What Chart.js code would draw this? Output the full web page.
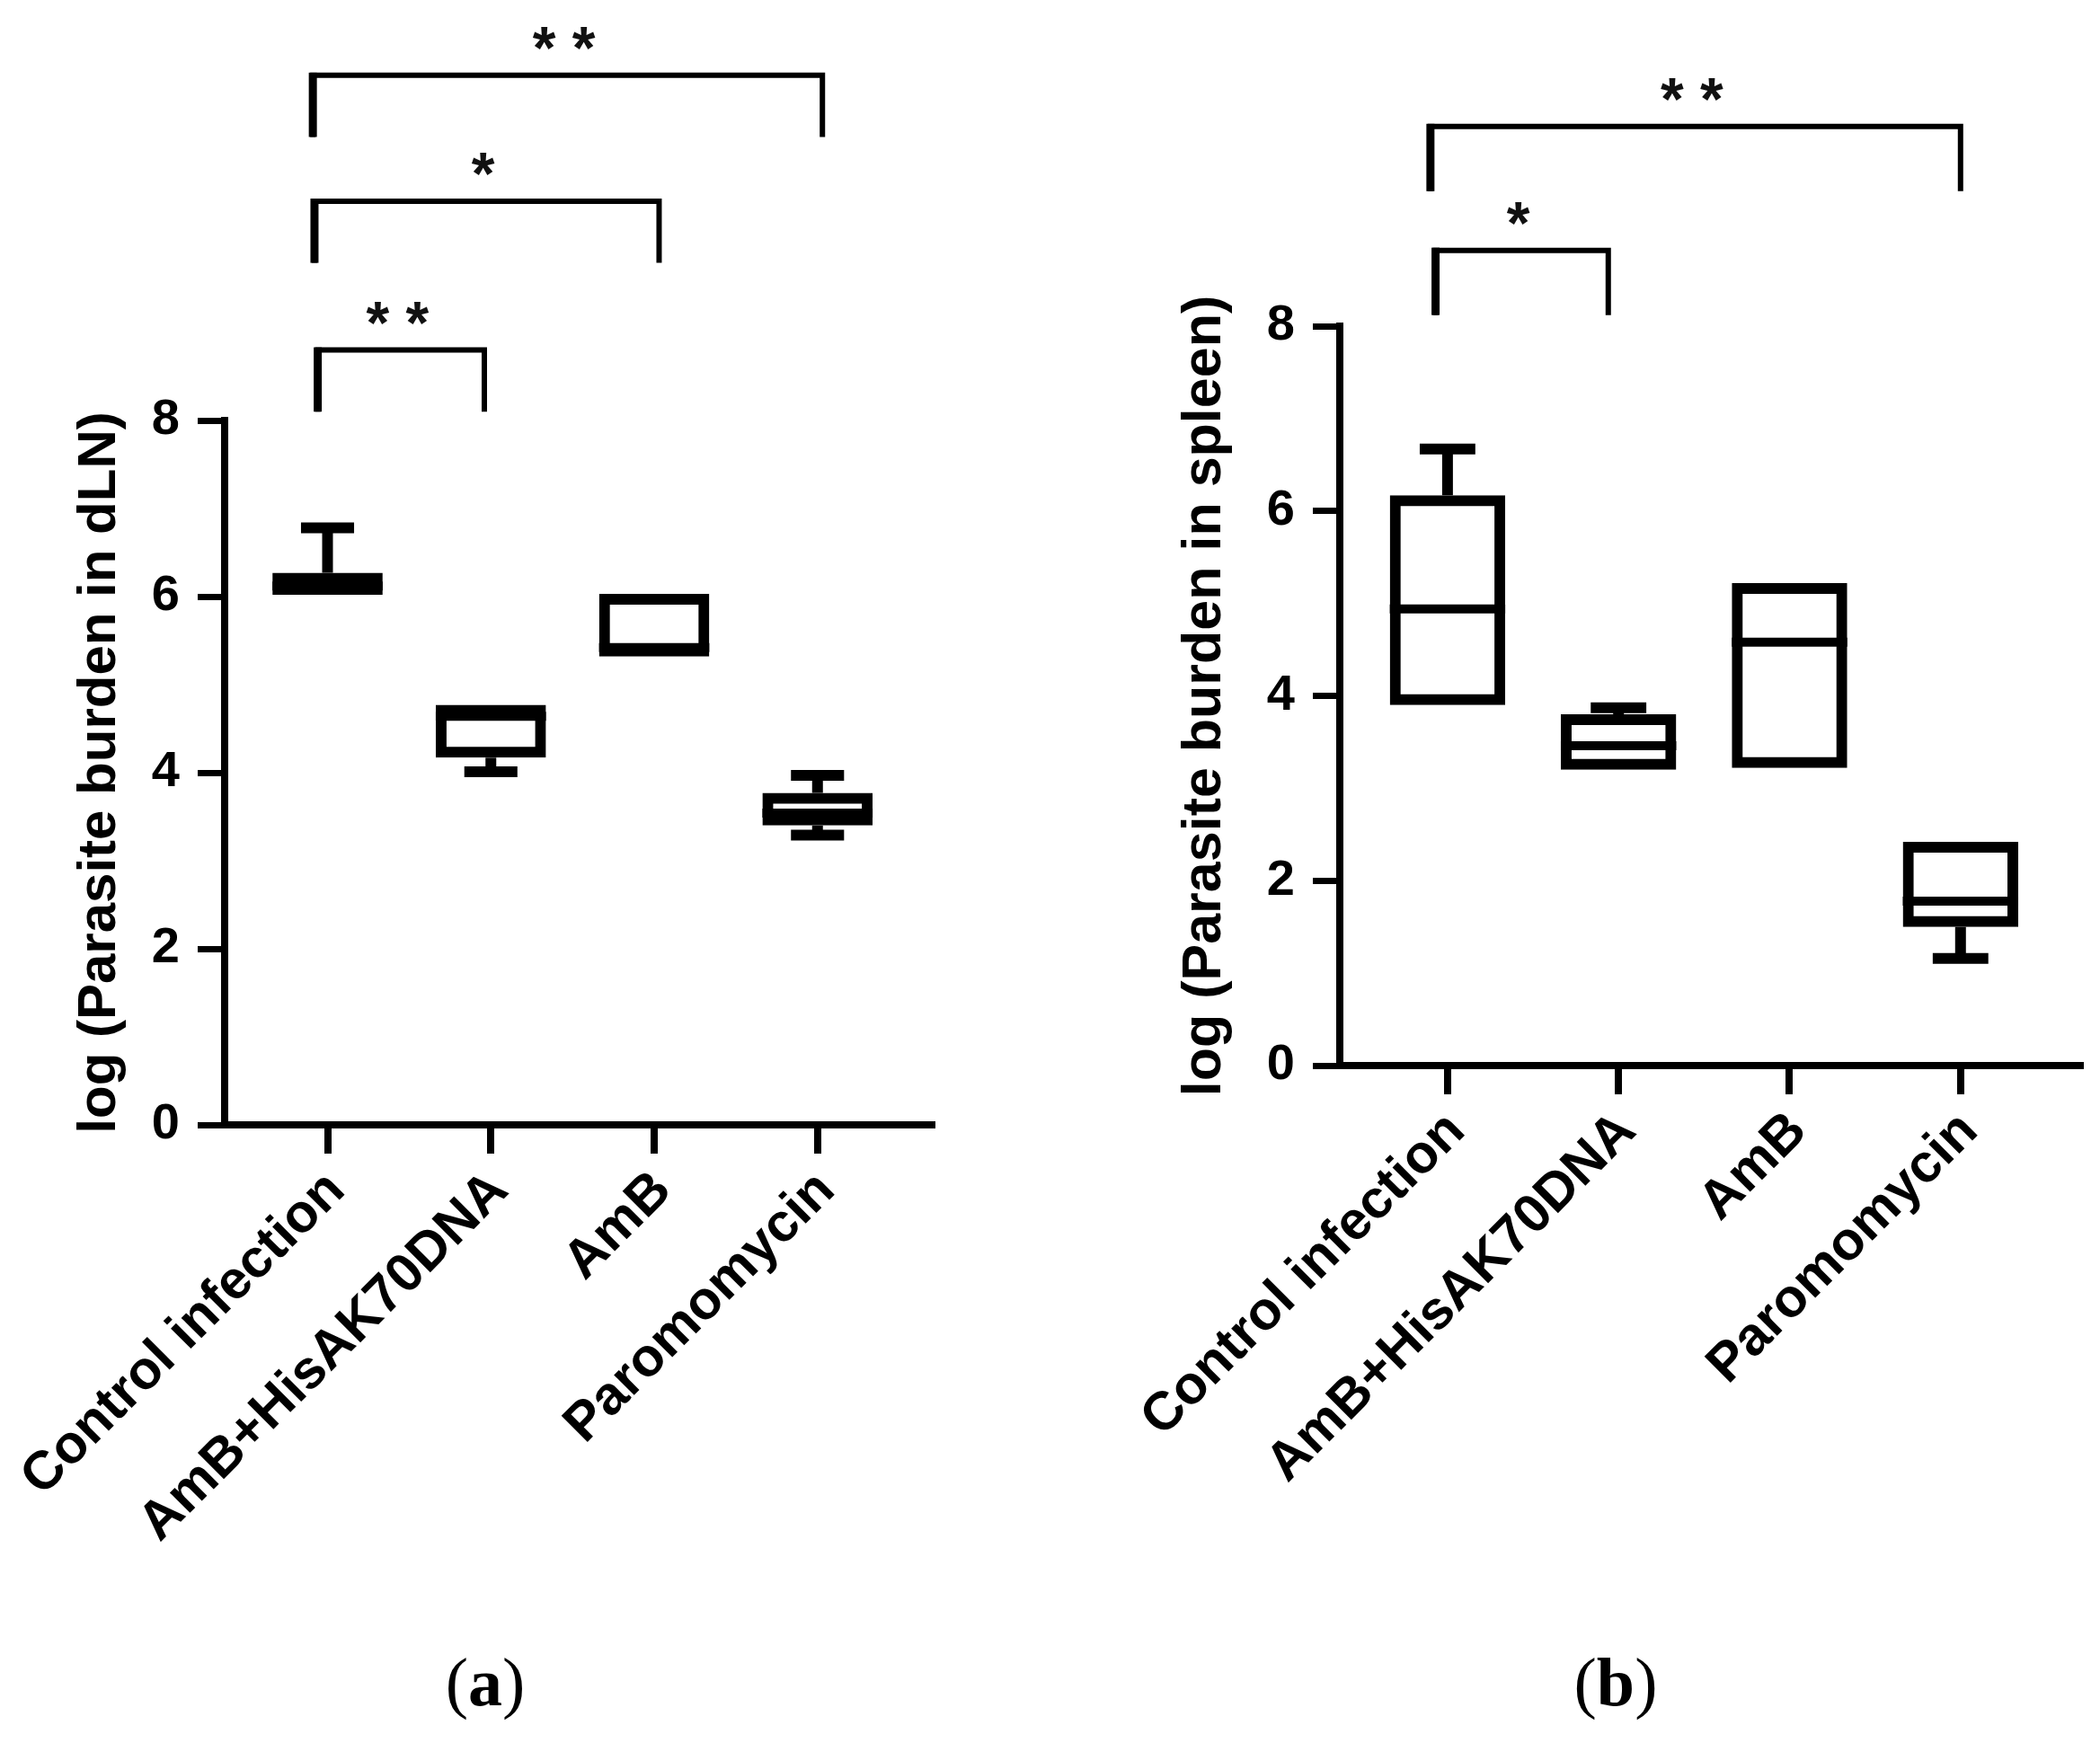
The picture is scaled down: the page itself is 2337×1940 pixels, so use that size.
<!DOCTYPE html>
<html>
<head>
<meta charset="utf-8">
<title>Parasite burden</title>
<script src="https://cdn.jsdelivr.net/npm/chart.js@4.4.1/dist/chart.umd.min.js"></script>
<style>
  html, body { margin: 0; padding: 0; background: #fff; }
  #page { position: relative; width: 2337px; height: 1940px; overflow: hidden; background: #fff; }
  canvas { position: absolute; top: 0; }
  #chartA { left: 0; }
  #chartB { left: 1180px; }
  .caption {
    position: absolute; top: 1834px; line-height: 1;
    font-family: "Liberation Serif", "Times New Roman", serif; font-size: 76px;
    transform: translateX(-50%); color: #000;
  }
</style>
</head>
<body>
<div id="page">
  <canvas id="chartA" width="1060" height="1820"></canvas>
  <canvas id="chartB" width="1157" height="1820"></canvas>
  <div class="caption" style="left:540px">(<b>a</b>)</div>
  <div class="caption" style="left:1798px">(<b>b</b>)</div>
</div>

<script>
// categories and ticks
const groups = ["Control infection", "AmB+HisAK70DNA", "AmB", "Paromomycin"];
const yTicks = [0, 2, 4, 6, 8];

// (a) dLN box stats
const dlnMin    = [6.02, 4.01, 5.32, 3.29];
const dlnQ1     = [6.02, 4.17, 5.32, 3.40];
const dlnMedian = [6.12, 4.64, 5.42, 3.54];
const dlnQ3     = [6.27, 4.77, 6.03, 3.77];
const dlnMax    = [6.78, 4.77, 6.03, 3.97];

// (a) significance brackets
const dlnBracketFrom  = [-0.06, -0.08, -0.09];
const dlnBracketTo    = [0.96, 2.03, 3.03];
const dlnBracketLevel = [8.80, 10.49, 11.92];
const dlnBracketLabel = ["* *", "*", "* *"];

// (b) spleen box stats
const spleenMin    = [3.90, 3.20, 3.23, 1.16];
const spleenQ1     = [3.90, 3.20, 3.22, 1.50];
const spleenMedian = [4.94, 3.46, 4.58, 1.78];
const spleenQ3     = [6.17, 3.80, 5.22, 2.42];
const spleenMax    = [6.67, 3.87, 5.22, 2.42];

// (b) significance brackets
const spleenBracketFrom  = [-0.07, -0.10];
const spleenBracketTo    = [0.94, 3.00];
const spleenBracketLevel = [8.82, 10.16];
const spleenBracketLabel = ["*", "* *"];

const bracketDrop = 0.70;

const FONT = "'Liberation Sans', Arial, Helvetica, sans-serif";
const BOX_LINE = 12;
const MEDIAN_LINE = 10;
const WHISKER_LINE = 12;
const CAP_WIDTH = 0.325; // in category units

// whiskers + median lines on top of the floating bars
const boxWhiskers = {
  id: 'boxWhiskers',
  afterDatasetsDraw(chart, args, opts) {
    const { ctx, scales: { x, y } } = chart;
    const bars = chart.getDatasetMeta(0).data;
    ctx.save();
    ctx.strokeStyle = '#000';
    ctx.lineCap = 'butt';
    opts.median.forEach((m, i) => {
      const bar = bars[i];
      const cx = x.getPixelForValue(i);
      const capHalf = x.getPixelForValue(i + CAP_WIDTH / 2) - cx;
      const yQ1 = y.getPixelForValue(opts.q1[i]);
      const yQ3 = y.getPixelForValue(opts.q3[i]);
      // median
      ctx.lineWidth = MEDIAN_LINE;
      ctx.beginPath();
      ctx.moveTo(bar.x - bar.width / 2, y.getPixelForValue(m));
      ctx.lineTo(bar.x + bar.width / 2, y.getPixelForValue(m));
      ctx.stroke();
      // upper whisker
      if (opts.max[i] > opts.q3[i]) {
        const yMax = y.getPixelForValue(opts.max[i]);
        ctx.lineWidth = WHISKER_LINE;
        ctx.beginPath();
        ctx.moveTo(cx, yQ3);
        ctx.lineTo(cx, yMax);
        ctx.stroke();
        ctx.beginPath();
        ctx.moveTo(cx - capHalf, yMax);
        ctx.lineTo(cx + capHalf, yMax);
        ctx.stroke();
      }
      // lower whisker
      if (opts.min[i] < opts.q1[i]) {
        const yMin = y.getPixelForValue(opts.min[i]);
        ctx.lineWidth = WHISKER_LINE;
        ctx.beginPath();
        ctx.moveTo(cx, yQ1);
        ctx.lineTo(cx, yMin);
        ctx.stroke();
        ctx.beginPath();
        ctx.moveTo(cx - capHalf, yMin);
        ctx.lineTo(cx + capHalf, yMin);
        ctx.stroke();
      }
    });
    ctx.restore();
  }
};

// significance brackets above the plot
const sigBrackets = {
  id: 'sigBrackets',
  afterDraw(chart, args, opts) {
    const { ctx, scales: { x, y } } = chart;
    ctx.save();
    ctx.strokeStyle = '#000';
    ctx.fillStyle = '#111';
    ctx.font = "bold 66px " + FONT;
    ctx.textAlign = 'center';
    ctx.textBaseline = 'alphabetic';
    opts.level.forEach((lv, i) => {
      const x1 = x.getPixelForValue(opts.from[i]);
      const x2 = x.getPixelForValue(opts.to[i]);
      const yl = y.getPixelForValue(lv);
      const yb = y.getPixelForValue(lv - bracketDrop);
      ctx.lineWidth = 6;
      ctx.lineJoin = 'miter';
      ctx.beginPath();
      ctx.moveTo(x1, yb);
      ctx.lineTo(x1, yl);
      ctx.lineTo(x2, yl);
      ctx.lineTo(x2, yb);
      ctx.stroke();
      ctx.lineWidth = 9;
      ctx.beginPath();
      ctx.moveTo(x1, yb);
      ctx.lineTo(x1, yl - 3);
      ctx.stroke();
      ctx.fillText(opts.label[i], (x1 + x2) / 2 - 4, yl - 8);
    });
    ctx.restore();
  }
};

function makeChart(id, title, stats, brackets, frame) {
  const ctx = document.getElementById(id).getContext('2d');
  return new Chart(ctx, {
    type: 'bar',
    data: {
      datasets: [{
        data: groups.map((g, i) => ({ x: i, y: [stats.q1[i], stats.q3[i]] })),
        backgroundColor: 'rgba(255,255,255,0)',
        borderColor: '#000',
        borderWidth: BOX_LINE,
        borderSkipped: false,
        categoryPercentage: 1,
        barPercentage: 0.675
      }]
    },
    options: {
      responsive: false,
      devicePixelRatio: 1,
      animation: false,
      layout: { padding: { top: frame.top, right: frame.right, left: 0, bottom: 0 } },
      plugins: {
        legend: { display: false },
        tooltip: { enabled: false },
        boxWhiskers: stats,
        sigBrackets: brackets
      },
      scales: {
        x: {
          type: 'linear',
          min: -0.63,
          max: 3.70,
          offset: false,
          afterBuildTicks: sc => { sc.ticks = groups.map((g, i) => ({ value: i })); },
          afterFit: sc => { sc.height = frame.xHeight; sc.paddingLeft = 0; sc.paddingRight = 0; },
          ticks: {
            autoSkip: false,
            maxRotation: 45,
            minRotation: 45,
            padding: 6,
            labelOffset: 10,
            color: '#000',
            font: { family: FONT, size: 60, weight: 'bold' },
            callback: v => groups[v]
          },
          grid: { offset: false, drawOnChartArea: false, drawTicks: true, tickLength: 32, tickWidth: 8, tickColor: '#000', color: '#000', lineWidth: 8 },
          border: { display: true, color: '#000', width: 8 }
        },
        y: {
          min: 0,
          max: 8,
          afterBuildTicks: sc => { sc.ticks = yTicks.map(v => ({ value: v })); },
          afterFit: sc => { sc.width = frame.yWidth; },
          ticks: {
            padding: 20,
            color: '#000',
            font: { family: FONT, size: 56, weight: 'bold' }
          },
          title: {
            display: true,
            text: title,
            color: '#000',
            font: { family: FONT, size: frame.titleSize, weight: 'bold' },
            padding: { top: frame.titlePad, bottom: 0 }
          },
          grid: { drawOnChartArea: false, drawTicks: true, tickLength: 30, tickWidth: 7, tickColor: '#000', color: '#000', lineWidth: 7 },
          border: { display: true, color: '#000', width: 8 }
        }
      }
    },
    plugins: [boxWhiskers, sigBrackets]
  });
}

makeChart('chartA', 'log (Parasite burden in dLN)',
  { min: dlnMin, q1: dlnQ1, median: dlnMedian, q3: dlnQ3, max: dlnMax },
  { from: dlnBracketFrom, to: dlnBracketTo, level: dlnBracketLevel, label: dlnBracketLabel },
  { top: 468, right: 23, xHeight: 568, yWidth: 250, titlePad: 75, titleSize: 60 });

makeChart('chartB', 'log (Parasite burden in spleen)',
  { min: spleenMin, q1: spleenQ1, median: spleenMedian, q3: spleenQ3, max: spleenMax },
  { from: spleenBracketFrom, to: spleenBracketTo, level: spleenBracketLevel, label: spleenBracketLabel },
  { top: 363, right: 22, xHeight: 634, yWidth: 311, titlePad: 125, titleSize: 61 });
</script>
</body>
</html>
